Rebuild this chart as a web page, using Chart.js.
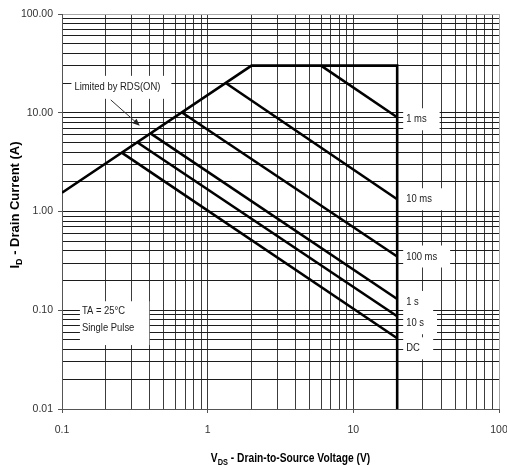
<!DOCTYPE html>
<html>
<head>
<meta charset="utf-8">
<script src="https://cdn.jsdelivr.net/npm/chart.js@4.4.1/dist/chart.umd.min.js"></script>
<style>
  html, body { margin: 0; padding: 0; background: #fff; }
  #wrap { width: 507px; height: 465px; position: relative; }
</style>
</head>
<body>
<div id="wrap"><canvas id="soa" width="507" height="465"></canvas></div>
<script>
// Maximum safe operating area, log-log axes
const xTickValues = [0.1, 1, 10, 100];
const xTickLabels = ['0.1', '1', '10', '100'];
const yTickValues = [0.01, 0.1, 1, 10, 100];
const yTickLabels = ['0.01', '0.10', '1.00', '10.00', '100.00'];

// Outer boundary: RDS(ON) limit, current limit, VDS limit
const limitV = [0.1, 2, 20, 20];
const limitI = [1.55, 30, 30, 0.01];

// Pulse-width limited lines (VDS in V, ID in A)
const pulseNames = ['1 ms', '10 ms', '100 ms', '1 s', '10 s', 'DC'];
const pulseV = [[6, 20], [1.33, 20], [0.67, 20], [0.41, 20], [0.33, 20], [0.26, 20]];
const pulseI = [[30, 9], [20, 1.33], [10, 0.35], [6.1, 0.13], [5, 0.087], [3.9, 0.052]];

// vertical nudge (px) of each end label so they do not collide
const labelNudge = [2, 0, 0, 3, 7, 10];

// font detection: use a narrow face when present, otherwise condense the regular one
function hasFont(name) {
  const c = document.createElement('canvas').getContext('2d');
  const s = 'Limited by RDS(ON) 0123456789';
  c.font = '40px monospace';
  const a = c.measureText(s).width;
  c.font = `40px '${name}', monospace`;
  return Math.abs(c.measureText(s).width - a) > 0.5;
}
const NARROW = hasFont('Liberation Sans Narrow');
const REG = "'Liberation Sans', Arial, sans-serif";
const NARROW_FAMILY = NARROW ? "'Liberation Sans Narrow', " + REG : REG;
const SQUEEZE = NARROW ? 1 : 0.82;

function putText(ctx, str, x, y, size, weight, align, baseline, squeeze, family) {
  ctx.save();
  ctx.font = `${weight} ${size}px ${family}`;
  ctx.textAlign = align;
  ctx.textBaseline = baseline;
  ctx.translate(x, y);
  ctx.scale(squeeze, 1);
  ctx.fillText(str, 0, 0);
  const w = ctx.measureText(str).width * squeeze;
  ctx.restore();
  return w;
}
function textWidth(ctx, str, size, weight, squeeze, family) {
  ctx.save();
  ctx.font = `${weight} ${size}px ${family}`;
  const w = ctx.measureText(str).width * squeeze;
  ctx.restore();
  return w;
}

function minorTicks(min, max) {
  const out = [];
  for (let e = -3; e <= 3; e++) {
    for (let m = 1; m <= 9; m++) {
      const v = parseFloat((m * Math.pow(10, e)).toPrecision(6));
      if (v >= min - 1e-12 && v <= max + 1e-12) out.push({ value: v });
    }
  }
  return out;
}
function labelFor(values, labels, v) {
  const k = values.findIndex(t => Math.abs(Math.log10(t) - Math.log10(v)) < 1e-6);
  return k >= 0 ? labels[k] : '';
}
function isMajor(values, v) {
  return values.some(t => Math.abs(Math.log10(t) - Math.log10(v)) < 1e-6);
}

const toPoints = (vs, is) => vs.map((v, k) => ({ x: v, y: is[k] }));
const lineStyle = {
  showLine: true, borderColor: '#000', borderWidth: 2.6, pointRadius: 0,
  fill: false, tension: 0, borderJoinStyle: 'miter', borderCapStyle: 'butt'
};
const datasets = [
  Object.assign({ label: 'limit', data: toPoints(limitV, limitI) }, lineStyle)
].concat(pulseNames.map((n, k) => Object.assign({ label: n, data: toPoints(pulseV[k], pulseI[k]) }, lineStyle)));

const notes = {
  id: 'notes',
  afterDatasetsDraw(chart) {
    const { ctx, scales: { x, y } } = chart;
    ctx.save();
    const fam = NARROW_FAMILY, sq = SQUEEZE;

    // end-of-line labels
    pulseNames.forEach((name, k) => {
      const px = x.getPixelForValue(pulseV[k][1]);
      const py = y.getPixelForValue(pulseI[k][1]) + labelNudge[k];
      const w = textWidth(ctx, name, 11.5, 'normal', sq, fam);
      const bx = px + 6, bw = Math.max(w + 16, 30), bh = 22;
      ctx.fillStyle = '#fff';
      ctx.fillRect(bx, py - bh / 2, bw, bh);
      ctx.fillStyle = '#222';
      putText(ctx, name, bx + 3, py, 11.5, 'normal', 'left', 'middle', sq, fam);
    });

    // RDS(ON) note with arrow
    {
      const cx = x.getPixelForValue(0.24), cy = y.getPixelForValue(18.3);
      const str = 'Limited by RDS(ON)';
      const w = textWidth(ctx, str, 11.5, 'normal', sq, fam);
      const left = cx - w / 2;
      ctx.fillStyle = '#fff';
      ctx.fillRect(left - 3, cy - 11, w + 14, 23);
      ctx.fillStyle = '#222';
      putText(ctx, str, left, cy, 11.5, 'normal', 'left', 'middle', sq, fam);

      const x0 = x.getPixelForValue(0.216), y0 = y.getPixelForValue(13.5);
      const x1 = x.getPixelForValue(0.342), y1 = y.getPixelForValue(7.4);
      const ang = Math.atan2(y1 - y0, x1 - x0);
      ctx.strokeStyle = '#333';
      ctx.lineWidth = 1;
      ctx.beginPath();
      ctx.moveTo(x0, y0);
      ctx.lineTo(x1 - 4 * Math.cos(ang), y1 - 4 * Math.sin(ang));
      ctx.stroke();
      ctx.fillStyle = '#222';
      ctx.beginPath();
      ctx.moveTo(x1, y1);
      ctx.lineTo(x1 - 7 * Math.cos(ang) + 3 * Math.sin(ang), y1 - 7 * Math.sin(ang) - 3 * Math.cos(ang));
      ctx.lineTo(x1 - 7 * Math.cos(ang) - 3 * Math.sin(ang), y1 - 7 * Math.sin(ang) + 3 * Math.cos(ang));
      ctx.closePath();
      ctx.fill();
    }

    // test conditions
    {
      const lx = x.getPixelForValue(0.137);
      const y1 = y.getPixelForValue(0.1), y2 = y.getPixelForValue(0.066);
      const l1 = 'TA = 25°C', l2 = 'Single Pulse';
      const w = Math.max(textWidth(ctx, l1, 11.5, 'normal', sq, fam), textWidth(ctx, l2, 11.5, 'normal', sq, fam));
      ctx.fillStyle = '#fff';
      ctx.fillRect(lx - 2, y1 - 9, w + 17, (y2 - y1) + 26);
      ctx.fillStyle = '#222';
      putText(ctx, l1, lx, y1 + 1, 11.5, 'normal', 'left', 'middle', sq, fam);
      putText(ctx, l2, lx, y2, 11.5, 'normal', 'left', 'middle', sq, fam);
    }

    // axis titles with subscripts
    ctx.fillStyle = '#000';
    {
      // horizontal title
      const parts = [['V', 12.5, 0], ['DS', 9, 3], [' - Drain-to-Source Voltage (V)', 12.5, 0]];
      const ws = parts.map(p => textWidth(ctx, p[0], p[1], 'bold', sq, fam));
      const total = ws.reduce((a, b) => a + b, 0);
      let px = (chart.chartArea.left + chart.chartArea.right) / 2 + 10 - total / 2;
      const base = 462;
      parts.forEach((p, k) => { putText(ctx, p[0], px, base + p[2], p[1], 'bold', 'left', 'alphabetic', sq, fam); px += ws[k]; });
    }
    {
      // vertical title
      const parts = [['I', 13, 0], ['D', 9, 3], [' - Drain Current (A)', 13, 0]];
      const ws = parts.map(p => textWidth(ctx, p[0], p[1], 'bold', 1, REG));
      const total = ws.reduce((a, b) => a + b, 0);
      ctx.save();
      ctx.translate(19, 205);
      ctx.rotate(-Math.PI / 2);
      let px = -total / 2;
      parts.forEach((p, k) => { putText(ctx, p[0], px, p[2], p[1], 'bold', 'left', 'alphabetic', 1, REG); px += ws[k]; });
      ctx.restore();
    }
    ctx.restore();
  }
};

const tickFont = { family: NARROW_FAMILY, size: NARROW ? 11.5 : 10.5 };

new Chart(document.getElementById('soa'), {
  type: 'scatter',
  data: { datasets },
  options: {
    responsive: false,
    animation: false,
    devicePixelRatio: 1,
    layout: { padding: { top: 14, right: 8, left: 0, bottom: 0 } },
    plugins: { legend: { display: false }, tooltip: { enabled: false } },
    scales: {
      x: {
        type: 'logarithmic', min: 0.1, max: 100,
        afterBuildTicks: s => { s.ticks = minorTicks(0.1, 100); },
        afterFit: s => { s.height = 56; s.paddingLeft = 0; s.paddingRight = 0; },
        border: { color: '#555', width: 1 },
        grid: {
          color: c => (c.tick && c.tick.value === 100) ? '#a8a8a8' : '#3c3c3c',
          lineWidth: 1,
          tickLength: 4,
          tickColor: c => (c.tick && isMajor(xTickValues, c.tick.value)) ? '#555' : 'rgba(0,0,0,0)'
        },
        ticks: {
          autoSkip: false, maxRotation: 0, padding: 11, color: '#333', font: tickFont,
          callback: v => labelFor(xTickValues, xTickLabels, v)
        }
      },
      y: {
        type: 'logarithmic', min: 0.01, max: 100,
        afterBuildTicks: s => { s.ticks = minorTicks(0.01, 100); },
        afterFit: s => { s.width = 62; s.paddingTop = 0; s.paddingBottom = 0; },
        border: { color: '#555', width: 1 },
        grid: {
          color: c => (c.tick && c.tick.value === 100) ? '#a8a8a8' : '#1c1c1c',
          lineWidth: 1,
          tickLength: 4,
          tickColor: c => (c.tick && isMajor(yTickValues, c.tick.value)) ? '#555' : 'rgba(0,0,0,0)'
        },
        ticks: {
          autoSkip: false, padding: 5, color: '#333', font: tickFont,
          callback: v => labelFor(yTickValues, yTickLabels, v)
        }
      }
    }
  },
  plugins: [notes]
});
</script>
</body>
</html>
